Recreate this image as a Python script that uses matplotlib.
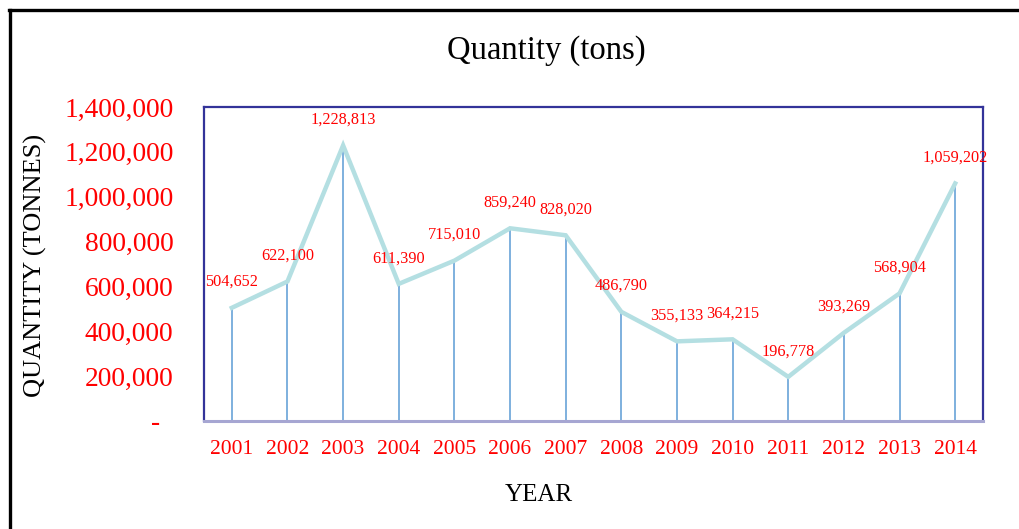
import matplotlib
matplotlib.use("Agg")
import matplotlib.pyplot as plt
from matplotlib.lines import Line2D

years = ['2001', '2002', '2003', '2004', '2005', '2006', '2007',
         '2008', '2009', '2010', '2011', '2012', '2013', '2014']
quantity = [504652, 622100, 1228813, 611390, 715010, 859240, 828020,
            486790, 355133, 364215, 196778, 393269, 568904, 1059202]
yticks = [0, 200000, 400000, 600000, 800000, 1000000, 1200000, 1400000]
ytick_labels = ['-  ', '200,000', '400,000', '600,000', '800,000',
                '1,000,000', '1,200,000', '1,400,000']

plt.rcParams['font.family'] = ['Liberation Serif', 'DejaVu Serif']

W, H = 1019, 529
fig = plt.figure(figsize=(W / 100, H / 100), dpi=100)
ax = fig.add_axes([204 / W, 1 - 421 / H, (983 - 204) / W, (421 - 107) / H])

x = list(range(1, len(years) + 1))
ax.vlines(x, 0, quantity, color='#5b9bd5', lw=1.1, zorder=2)
ax.plot(x, quantity, color='#b4dfe2', lw=3.2, solid_joinstyle='miter', zorder=3)

for xi, q in zip(x, quantity):
    ax.annotate(f"{q:,}", (xi, q), xytext=(0, 18.5), textcoords='offset points',
                ha='center', va='center', color='red', fontsize=11.7)

ax.set_xlim(0.5, len(years) + 0.5)
ax.set_ylim(0, 1400000)
ax.set_xticks(x)
ax.set_xticklabels(years, color='red', fontsize=15.5)
ax.set_yticks(yticks)
ax.set_yticklabels(ytick_labels, color='red', fontsize=19.8)
ax.tick_params(axis='x', length=0, pad=14)
ax.tick_params(axis='y', length=0, pad=22)

for side in ['left', 'top', 'right']:
    ax.spines[side].set_color('#333399')
    ax.spines[side].set_linewidth(1.6)
ax.spines['bottom'].set_color('#a6a6d2')
ax.spines['bottom'].set_linewidth(2.2)

fig.text(546 / W, 1 - 51 / H, 'Quantity (tons)', ha='center', va='center', fontsize=23.5)
fig.text(35 / W, 1 - 265 / H, 'QUANTITY (TONNES)', ha='center', va='center',
         rotation=90, fontsize=19)
fig.text(539 / W, 1 - 495 / H, 'YEAR', ha='center', va='center', fontsize=18)

# outer frame, only left and top edges are visible
fig.add_artist(Line2D([9.5 / W, 9.5 / W], [0, 1 - 9.5 / H], color='black', lw=2.4,
                      transform=fig.transFigure))
fig.add_artist(Line2D([8.5 / W, 1], [1 - 9.5 / H, 1 - 9.5 / H], color='black', lw=2.4,
                      transform=fig.transFigure))

plt.savefig("out.png", dpi=100)
